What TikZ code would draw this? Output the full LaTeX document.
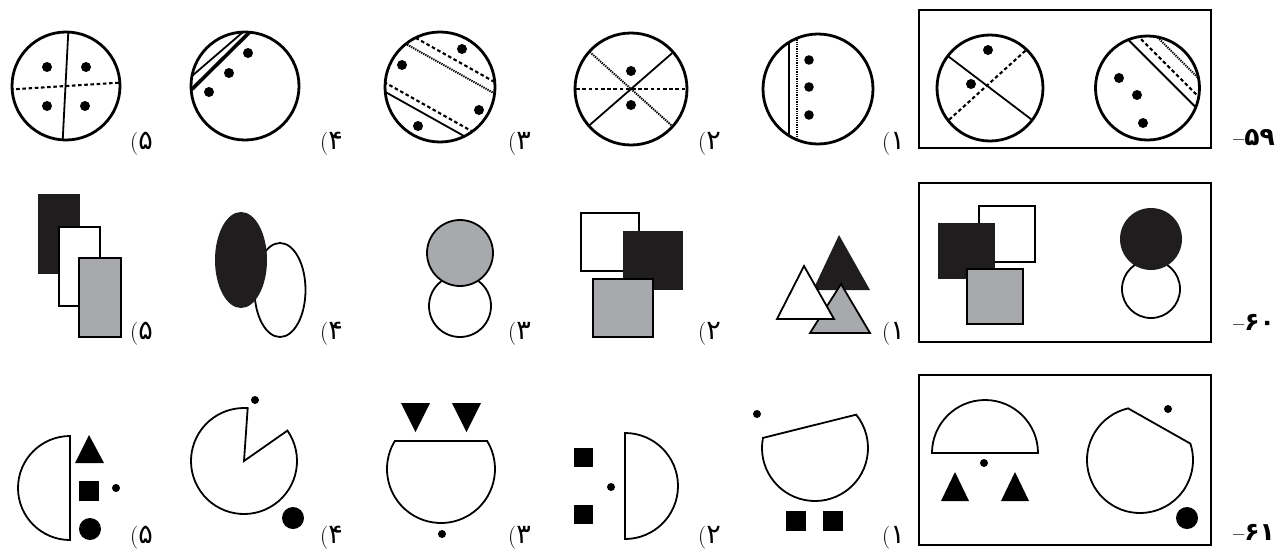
\documentclass[tikz,border=0pt]{standalone}
\usepackage{fontspec}
\newfontfamily\fa[Script=Arabic]{DejaVu Sans}
\definecolor{gr}{RGB}{168,169,173}
\definecolor{blk}{RGB}{31,29,29}
\newcommand\dg[1]{{\fa\fontsize{27}{28}\selectfont #1}}
\newcommand\qn[1]{{\bfseries\fontsize{20}{22}\selectfont –}{\fa\bfseries\fontsize{25}{26}\selectfont #1}}
\begin{document}
\begin{tikzpicture}[x=1pt,y=-1pt,
  ring/.style={line width=2.8pt},
  chord/.style={line width=1.8pt},
  thick chord/.style={line width=3.6pt},
  dsh/.style={line width=2.1pt, dash pattern=on 3.6pt off 2.6pt},
  dtt/.style={line width=2pt, dash pattern=on 1.3pt off 1pt},
  shp/.style={line width=1.8pt},
  qbox/.style={line width=2.2pt},
  lbl/.style={font=\fontsize{23}{25}\selectfont, inner sep=0pt, anchor=base west},
  qnum/.style={inner sep=0pt, anchor=base west}]

\useasboundingbox[fill=white] (0,0) rectangle (1286,550);

% ================= Row 1 =================
% option 5
\begin{scope}
  \clip (66,86) circle[radius=54];
  \draw[chord] (68.5,28) -- (62.5,144);
  \draw[dsh] (10,89.5) -- (122,82.5);
\end{scope}
\draw[ring] (66,86) circle[radius=54];
\fill (47,67) circle[radius=5];
\fill (86,67) circle[radius=5];
\fill (47,106) circle[radius=5];
\fill (85,106) circle[radius=5];

% option 4
\begin{scope}
  \clip (245,86) circle[radius=54];
  \draw[chord] (178,88) -- (257,20);
  \draw[thick chord] (175,106) -- (266,16);
\end{scope}
\draw[ring] (245,86) circle[radius=54];
\fill (248,53) circle[radius=5];
\fill (229,73) circle[radius=5];
\fill (209,92) circle[radius=5];

% option 3
\begin{scope}
  \clip (440,87) circle[radius=55];
  \draw[dsh] (394.0,25.7) -- (516.2,94.1);
  \draw[dtt] (389.1,34.5) -- (511.3,102.9);
  \draw[dsh] (367.7,72.9) -- (489.9,141.3);
  \draw[chord] (363.8,79.9) -- (486.0,148.3);
\end{scope}
\draw[ring] (440,87) circle[radius=55];
\fill (402,65) circle[radius=5];
\fill (462,49) circle[radius=5];
\fill (479,110) circle[radius=5];
\fill (418,126) circle[radius=5];

% option 2
\begin{scope}
  \clip (631,89) circle[radius=56];
  \draw[dsh] (570,89) -- (692,89);
  \draw[chord] (585.8,128.4) -- (676.2,49.6);
  \draw[dtt] (586.4,48.9) -- (675.6,129.1);
\end{scope}
\draw[ring] (631,89) circle[radius=56];
\fill (631,71) circle[radius=5];
\fill (631,105) circle[radius=5];

% option 1
\begin{scope}
  \clip (818,89) circle[radius=55];
  \draw[chord] (789,30) -- (789,150);
  \draw[dtt] (797,30) -- (797,150);
\end{scope}
\draw[ring] (818,89) circle[radius=55];
\fill (809,60) circle[radius=4.8];
\fill (809,87) circle[radius=4.8];
\fill (809,115) circle[radius=4.8];

% question box 59
\draw[qbox] (919,10) rectangle (1211,148);
\begin{scope}
  \clip (990,88) circle[radius=53];
  \draw[chord] (942.2,51.7) -- (1037.8,124.3);
  \draw[dsh] (940,128) -- (1035,42);
\end{scope}
\draw[ring] (990,88) circle[radius=53];
\fill (988,50) circle[radius=5];
\fill (971,84) circle[radius=5];
\begin{scope}
  \clip (1147.5,88) circle[radius=52];
  \draw[chord] (1112.5,24.0) -- (1211.5,123.0);
  \draw[dsh] (1119.2,17.3) -- (1218.2,116.3);
  \draw[dtt] (1128.4,8.1) -- (1227.4,107.1);
\end{scope}
\draw[ring] (1147.5,88) circle[radius=52];
\fill (1119,78) circle[radius=5];
\fill (1137,95) circle[radius=5];
\fill (1143,123) circle[radius=5];

% labels row 1
\node[lbl] (a5) at (130,149) {(\dg{۵}};
\node[lbl] (a4) at (320,149) {(\dg{۴}};
\node[lbl] (a3) at (508,149) {(\dg{۳}};
\node[lbl] (a2) at (698,149) {(\dg{۲}};
\node[lbl] (a1) at (882,149) {(\dg{۱}};
\node[qnum] (q59) at (1233,145) {\qn{۵۹}};

% ================= Row 2 =================
% option 5
\fill[blk] (38,194) rectangle (80,274);
\draw[shp, fill=white] (59,227) rectangle (100,306);
\draw[shp, fill=gr] (79,258) rectangle (121,337);
% option 4
\draw[shp, fill=white] (280,290) ellipse[x radius=25.5, y radius=47];
\fill[blk] (241,260) ellipse[x radius=26, y radius=48];
% option 3
\draw[shp, fill=white] (460,306) circle[radius=31];
\draw[shp, fill=gr] (460,253) circle[radius=33];
% option 2
\draw[shp, fill=white] (581,213) rectangle (639,271);
\fill[blk] (623,231) rectangle (683,290);
\draw[shp, fill=gr] (593,279) rectangle (653,337);
% option 1
\fill[blk] (839,235) -- (813,290) -- (870,290) -- cycle;
\draw[shp, fill=gr] (841,284) -- (810,333) -- (870,333) -- cycle;
\draw[shp, fill=white] (804,266) -- (777,319) -- (834,319) -- cycle;
% question box 60
\draw[qbox] (919,183) rectangle (1211,342);
\draw[shp, fill=white] (979,206) rectangle (1035,262);
\fill[blk] (938,223) rectangle (995,279);
\draw[shp, fill=gr] (967,269) rectangle (1023,324);
\draw[shp, fill=white] (1151,289) circle[radius=29];
\fill[blk] (1151,239) circle[radius=31];

% labels row 2
\node[lbl] (b5) at (130,339) {(\dg{۵}};
\node[lbl] (b4) at (320,339) {(\dg{۴}};
\node[lbl] (b3) at (508,339) {(\dg{۳}};
\node[lbl] (b2) at (698,339) {(\dg{۲}};
\node[lbl] (b1) at (882,339) {(\dg{۱}};
\node[qnum] (q60) at (1233,330) {\qn{۶۰}};

% ================= Row 3 =================
% option 5
\draw[shp] (70,436) arc[start angle=-90, end angle=-270, radius=52] -- cycle;
\fill (89,435) -- (75,463) -- (104,463) -- cycle;
\fill (79,481) rectangle (99,501);
\fill (90,529) circle[radius=11];
\fill (116,488) circle[radius=4];
% option 4
\draw[shp] (244,461) -- ++(-35:53) arc[start angle=-35, end angle=274, radius=53] -- cycle;
\fill (255,400) circle[radius=4];
\fill (293,518) circle[radius=11];
% option 3
\draw[shp] (441,469) ++(-31.2:54) arc[start angle=-31.2, end angle=211.2, radius=54] -- cycle;
\fill (401,403) -- (430,403) -- (415.5,432) -- cycle;
\fill (452,403) -- (481,403) -- (466.5,432) -- cycle;
\fill (442,534) circle[radius=4];
% option 2
\draw[shp] (625,433) arc[start angle=-90, end angle=90, radius=53] -- cycle;
\fill (574,448) rectangle (593,467);
\fill (574,505) rectangle (593,524);
\fill (611,487) circle[radius=4];
% option 1
\draw[shp] (815,448) ++(-169:53) arc[start angle=-169, end angle=-399, radius=53] -- cycle;
\fill (757,414) circle[radius=4];
\fill (786,511) rectangle (806,531);
\fill (823,511) rectangle (843,531);
% question box 61
\draw[qbox] (919,375) rectangle (1211,545);
\draw[shp] (932,453) arc[start angle=180, end angle=360, radius=53] -- cycle;
\fill (984,463) circle[radius=4];
\fill (955,472) -- (941,501) -- (969,501) -- cycle;
\fill (1015,472) -- (1001,501) -- (1029,501) -- cycle;
\draw[shp] (1140,460) ++(-103:53) arc[start angle=-103, end angle=-378, radius=53] -- cycle;
\fill (1168,409) circle[radius=4];
\fill (1187,518) circle[radius=11];

% labels row 3
\node[lbl] (c5) at (130,543) {(\dg{۵}};
\node[lbl] (c4) at (320,543) {(\dg{۴}};
\node[lbl] (c3) at (508,543) {(\dg{۳}};
\node[lbl] (c2) at (698,543) {(\dg{۲}};
\node[lbl] (c1) at (882,543) {(\dg{۱}};
\node[qnum] (q61) at (1233,540) {\qn{۶۱}};
\end{tikzpicture}
\end{document}
